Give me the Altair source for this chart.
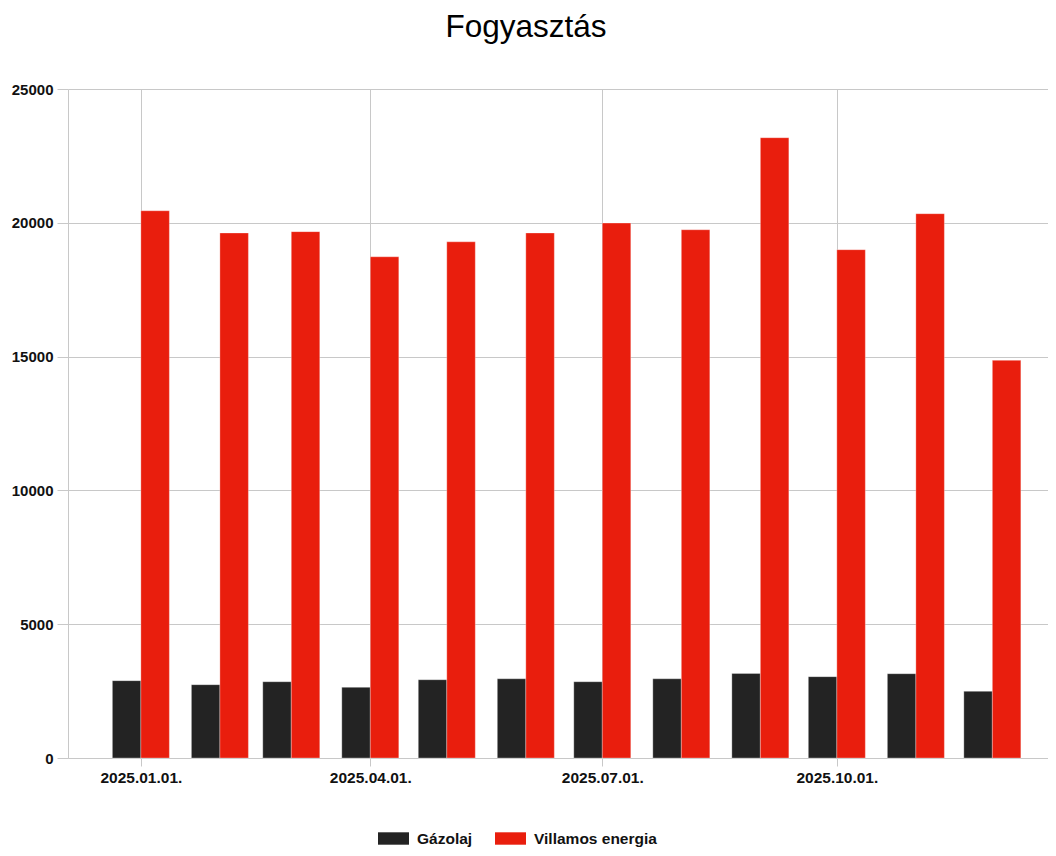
import altair as alt
import pandas as pd

# ---- data ----
months = ["2025-01-01", "2025-02-01", "2025-03-01", "2025-04-01", "2025-05-01", "2025-06-01",
          "2025-07-01", "2025-08-01", "2025-09-01", "2025-10-01", "2025-11-01", "2025-12-01"]
gazolaj = [2890, 2740, 2850, 2640, 2925, 2960, 2850, 2960, 3160, 3040, 3150, 2490]
villamos = [20450, 19620, 19670, 18730, 19290, 19620, 19990, 19740, 23180, 18995, 20340, 14860]
series = ["Gázolaj", "Villamos energia"]
colors = ["#232323", "#e91e0d"]
y_ticks = [0, 5000, 10000, 15000, 20000, 25000]

df = pd.DataFrame({
    "honap": months + months,
    "sorozat": [series[0]] * len(months) + [series[1]] * len(months),
    "ertek": gazolaj + villamos,
})

FONT = "Liberation Sans"
GRID = "#c8c8c8"

x_enc = alt.X(
    "honap:T",
    title=None,
    scale=alt.Scale(
        type="utc",
        domain=[alt.DateTime(year=2024, month=12, date=3, hours=10, utc=True),
                alt.DateTime(year=2025, month=12, date=22, hours=20, utc=True)],
        nice=False,
        padding=0,
    ),
    axis=alt.Axis(
        values=[alt.DateTime(year=2025, month=m, date=1, utc=True) for m in (1, 4, 7, 10)],
        labelExpr="utcFormat(datum.value, '%Y.%m.%d.')",
        grid=True,
        gridColor=GRID,
        domainColor=GRID,
        tickColor=GRID,
        tickSize=8,
        labelPadding=4,
        labelFont=FONT,
        labelFontSize=15.5,
        labelFontWeight="bold",
        labelColor="#111111",
    ),
)

y_enc = alt.Y(
    "ertek:Q",
    title=None,
    scale=alt.Scale(domain=[0, 25000], nice=False),
    axis=alt.Axis(
        values=y_ticks,
        format="d",
        grid=True,
        gridColor=GRID,
        domainColor=GRID,
        tickColor=GRID,
        tickSize=11,
        labelPadding=4,
        labelFont=FONT,
        labelFontSize=15,
        labelFontWeight="bold",
        labelColor="#111111",
    ),
)

color_enc = alt.Color(
    "sorozat:N",
    scale=alt.Scale(domain=series, range=colors),
    legend=alt.Legend(
        title=None,
        orient="none",
        direction="horizontal",
        legendX=310,
        legendY=734,
        symbolType="M-1,-0.4h2v0.8h-2z",
        symbolSize=961,
        symbolStrokeWidth=0,
        symbolOpacity=1,
        labelFont=FONT,
        labelFontSize=15.5,
        labelFontWeight="bold",
        labelColor="#111111",
        labelOffset=8,
        columnPadding=22,
    ),
)

base = alt.Chart(df).encode(x=x_enc, y=y_enc, color=color_enc)

bar_style = dict(width=28.5, stroke="#ffffff", strokeOpacity=0.3, strokeWidth=1)

left = base.transform_filter(alt.datum.sorozat == series[0]).mark_bar(xOffset=-14.25, **bar_style)
right = base.transform_filter(alt.datum.sorozat == series[1]).mark_bar(xOffset=14.25, **bar_style)

chart = (
    alt.layer(left, right)
    .properties(
        width=980,
        height=669,
        title=alt.TitleParams(
            "Fogyasztás",
            font=FONT,
            fontSize=31.5,
            fontWeight="normal",
            color="#000000",
            anchor="middle",
            dx=-32,
            offset=39,
        ),
        padding={"left": 60, "top": 81, "right": 0, "bottom": 90},
        autosize=alt.AutoSizeParams(type="none"),
    )
    .configure_view(stroke=None)
)

chart.save("out.html", embed_options={"renderer": "svg", "actions": False})
